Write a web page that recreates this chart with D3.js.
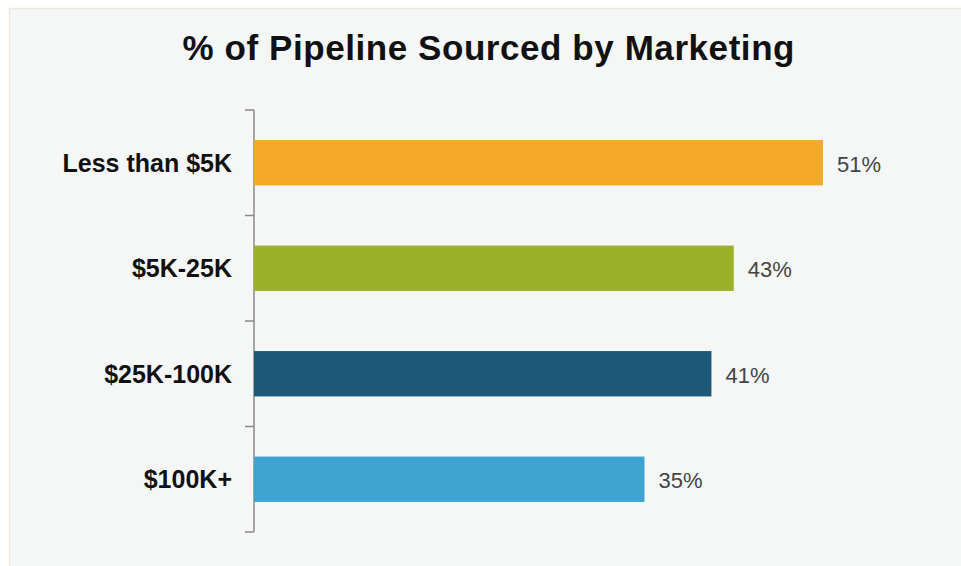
<!DOCTYPE html>
<html><head><meta charset="utf-8">
<script src="https://cdn.jsdelivr.net/npm/d3@7"></script>
<style>html,body{margin:0;padding:0;background:#fff;}svg{display:block;}</style>
</head><body>
<svg id="chart" width="961" height="566"></svg>
<script>
const title = "% of Pipeline Sourced by Marketing";
const categories = ["Less than $5K", "$5K-25K", "$25K-100K", "$100K+"];
const values = [51, 43, 41, 35];
const colors = ["#F5A92B", "#9BB12A", "#1D5878", "#3DA3D0"];

const svg = d3.select("#chart");
svg.append("rect").attr("x", 9.5).attr("y", 8.5).attr("width", 960).attr("height", 566)
  .attr("fill", "#F5F7F7").attr("stroke", "#EDE9DD").attr("stroke-width", 1.5);

svg.append("text").attr("x", 488.5).attr("y", 60).attr("text-anchor", "middle")
  .attr("font-family", "Liberation Sans, Arial, sans-serif").attr("font-weight", "bold")
  .attr("font-size", 35).attr("fill", "#111")
  .attr("textLength", 612).attr("lengthAdjust", "spacing").text(title);

const y = d3.scaleBand().domain(categories).range([110, 532]).paddingInner(0.57).paddingOuter(0.285);
const x = d3.scaleLinear().domain([0, 51]).range([254, 823]);

// axis line with ticks at band boundaries
const bounds = d3.range(categories.length + 1).map(i => 110 + i * (532 - 110) / categories.length);
svg.append("line").attr("x1", 254).attr("x2", 254).attr("y1", 110).attr("y2", 532)
  .attr("stroke", "#8a8a8a").attr("stroke-width", 1.5);
svg.selectAll(".tk").data(bounds).enter().append("line")
  .attr("x1", 245).attr("x2", 254).attr("y1", d => d).attr("y2", d => d)
  .attr("stroke", "#8a8a8a").attr("stroke-width", 1.5);

svg.selectAll(".bar").data(values).enter().append("rect")
  .attr("x", x(0)).attr("y", (d, i) => y(categories[i]))
  .attr("width", d => x(d) - x(0)).attr("height", y.bandwidth())
  .attr("fill", (d, i) => colors[i]);

svg.selectAll(".cat").data(categories).enter().append("text")
  .attr("x", 232).attr("y", d => y(d) + y.bandwidth() / 2 + 9)
  .attr("text-anchor", "end").attr("font-family", "Liberation Sans, Arial, sans-serif")
  .attr("font-weight", "bold").attr("font-size", 25).attr("fill", "#111").text(d => d);

svg.selectAll(".val").data(values).enter().append("text")
  .attr("x", d => x(d) + 14).attr("y", (d, i) => y(categories[i]) + y.bandwidth() / 2 + 9)
  .attr("font-family", "Liberation Sans, Arial, sans-serif")
  .attr("font-size", 22).attr("fill", "#444").text(d => d + "%");
</script>
</body></html>
